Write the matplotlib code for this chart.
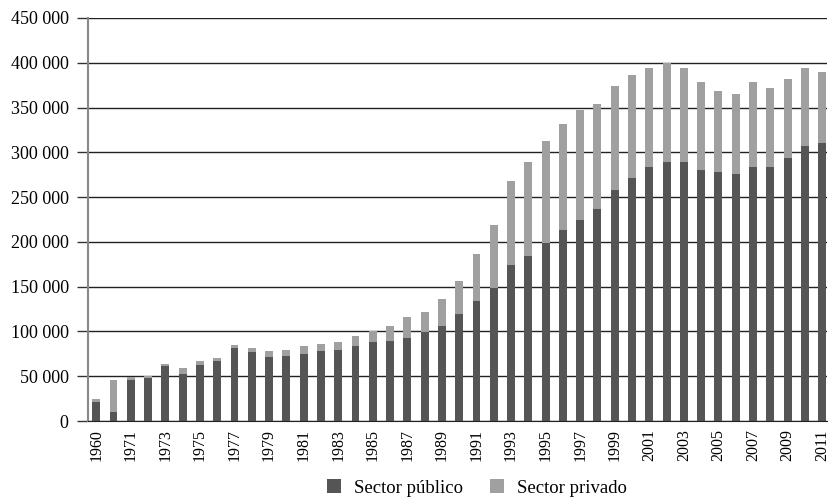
import matplotlib
matplotlib.use("Agg")
import matplotlib.pyplot as plt
import numpy as np
from matplotlib.ticker import FuncFormatter

# years on the x axis (1960 then 1970-2011)
years = [1960] + list(range(1970, 2012))

publico = [21500, 10400, 45800, 48300, 61700, 52500, 62500, 67300, 81800, 77300,
           71800, 72900, 75100, 78300, 79400, 83700, 88200, 89300, 92600, 99300,
           106000, 119400, 133900, 148400, 174100, 184200, 198700, 213200, 224300,
           236600, 257800, 271200, 283500, 289100, 289100, 280100, 277900, 275700,
           283500, 283500, 293500, 306900, 310300]

total = [24500, 45800, 49100, 50200, 63600, 59200, 67000, 70300, 84800, 81500,
         78100, 79600, 83700, 85900, 88200, 94900, 100400, 106000, 116100, 121700,
         136200, 156300, 186400, 218800, 267900, 289100, 312500, 331500, 347100,
         353800, 373900, 386200, 394000, 399600, 394000, 378300, 368300, 365000,
         378300, 371700, 381700, 394000, 389500]

privado = [t - p for t, p in zip(total, publico)]

plt.rcParams['font.family'] = ['Liberation Serif', 'DejaVu Serif']

fig = plt.figure(figsize=(8.31, 5.0), dpi=100)
ax = fig.add_axes([0.106, 0.158, 0.889, 0.806])

x = np.arange(len(years))
w = 0.46
ax.bar(x, publico, width=w, color='#555555', label='Sector público', zorder=2)
ax.bar(x, privado, width=w, bottom=publico, color='#a0a0a0', label='Sector privado', zorder=2)

ax.set_ylim(0, 450000)
ax.set_xlim(-0.47, 42.27)
ax.set_yticks(np.arange(0, 450001, 50000))
ax.yaxis.set_major_formatter(FuncFormatter(lambda v, p: f"{int(v):,}".replace(",", " ")))
ax.grid(axis='y', color='#222222', linewidth=1.0)
ax.set_axisbelow(True)

ax.set_xticks(x[::2])
ax.set_xticklabels([str(y) for y in years[::2]], rotation=90)
ax.tick_params(axis='x', length=0, labelsize=11.5, pad=6)
ax.tick_params(axis='y', length=8, width=1, labelsize=13, color='#333333', pad=6)

for s in ['top', 'right']:
    ax.spines[s].set_visible(False)
ax.spines['left'].set_color('#888888')
ax.spines['left'].set_linewidth(1.5)
ax.spines['bottom'].set_color('#222222')

fig.legend(loc='center', bbox_to_anchor=(477 / 831, 1 - 488 / 500), ncol=2,
           frameon=False, fontsize=13.5, handlelength=0.75, handleheight=0.75,
           handletextpad=0.7, columnspacing=1.4)

fig.savefig('out.png', dpi=100)
